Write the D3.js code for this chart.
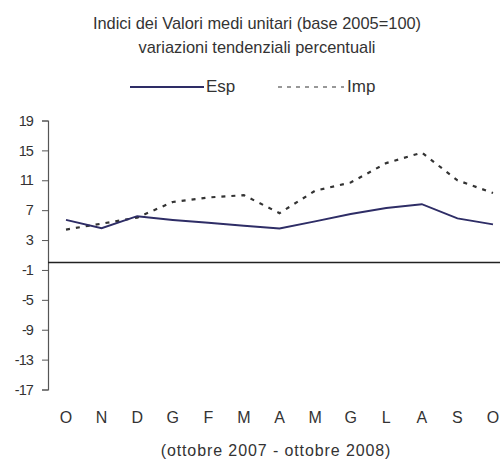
<!DOCTYPE html>
<html>
<head>
<meta charset="utf-8">
<script src="https://cdn.jsdelivr.net/npm/d3@7"></script>
<style>
	body { margin: 0; background: #fff; }
	svg { display: block; font-family: "Liberation Sans", Arial, sans-serif; }
	.title { font-size: 16.4px; fill: #333; }
	.legend text { font-size: 17px; fill: #333; }
	.y-axis text { font-size: 14.5px; fill: #333; letter-spacing: -0.9px; }
	.y-axis path, .y-axis line { stroke: #555; }
	.month { font-size: 16px; fill: #333; }
	.x-title { font-size: 16px; fill: #333; letter-spacing: 0.9px; }
</style>
</head>
<body>
<div id="chart"></div>
<script>
var months = ["O", "N", "D", "G", "F", "M", "A", "M", "G", "L", "A", "S", "O"]
var esp = [5.7, 4.6, 6.2, 5.7, 5.3, 4.9, 4.55, 5.5, 6.5, 7.3, 7.8, 5.9, 5.1]
var imp = [4.4, 5.2, 6.0, 8.1, 8.7, 9.0, 6.6, 9.6, 10.7, 13.3, 14.7, 11.0, 9.3]
var yTicks = [19, 15, 11, 7, 3, -1, -5, -9, -13, -17]
var titleLines = ["Indici dei Valori medi unitari (base 2005=100)", "variazioni tendenziali percentuali"]
var xTitle = "(ottobre 2007 - ottobre 2008)"

var width = 500, height = 459
var svg = d3.select("#chart").append("svg")
	.attr("width", width)
	.attr("height", height)

svg.selectAll("text.title")
	.data(titleLines)
	.enter().append("text")
		.attr("class", "title")
		.attr("x", 257)
		.attr("y", (d, i) => 29 + i * 24)
		.style("text-anchor", "middle")
		.text((d) => d)

var y = d3.scaleLinear().domain([-17, 19]).range([389.5, 120.5])
var x = d3.scalePoint().domain(d3.range(months.length)).range([66, 493])

// plain hyphen for negatives, like the original
var yAxis = d3.axisLeft(y).tickValues(yTicks).tickFormat((d) => String(d))
	.tickSize(6).tickSizeOuter(6).tickPadding(9)
svg.append("g")
	.attr("class", "y-axis")
	.attr("transform", "translate(48,0)")
	.call(yAxis)
	.call((g) => g.select(".domain").attr("stroke-width", 1.2))

// zero line
svg.append("line")
	.attr("x1", 48).attr("x2", 500)
	.attr("y1", y(0)).attr("y2", y(0))
	.attr("stroke", "#222").attr("stroke-width", 1.4)

svg.selectAll("text.month")
	.data(months)
	.enter().append("text")
		.attr("class", "month")
		.attr("x", (d, i) => x(i))
		.attr("y", 423)
		.style("text-anchor", "middle")
		.text((d) => d)

svg.append("text")
	.attr("class", "x-title")
	.attr("x", 276)
	.attr("y", 456)
	.style("text-anchor", "middle")
	.text(xTitle)

var line = d3.line().x((d, i) => x(i)).y((d) => y(d))

svg.append("path")
	.attr("d", line(imp))
	.attr("fill", "none")
	.attr("stroke", "#333")
	.attr("stroke-width", 2.2)
	.attr("stroke-dasharray", "4,6")

svg.append("path")
	.attr("d", line(esp))
	.attr("fill", "none")
	.attr("stroke", "#2e2d66")
	.attr("stroke-width", 2)

// legend
var legend = svg.append("g").attr("class", "legend")
legend.append("line")
	.attr("x1", 130).attr("x2", 204).attr("y1", 87).attr("y2", 87)
	.attr("stroke", "#2e2d66").attr("stroke-width", 2)
legend.append("text")
	.attr("x", 206).attr("y", 92)
	.text("Esp")
legend.append("line")
	.attr("x1", 278).attr("x2", 344).attr("y1", 87).attr("y2", 87)
	.attr("stroke", "#333").attr("stroke-width", 1.2)
	.attr("stroke-dasharray", "4,5")
legend.append("text")
	.attr("x", 347).attr("y", 92)
	.text("Imp")
</script>
</body>
</html>
